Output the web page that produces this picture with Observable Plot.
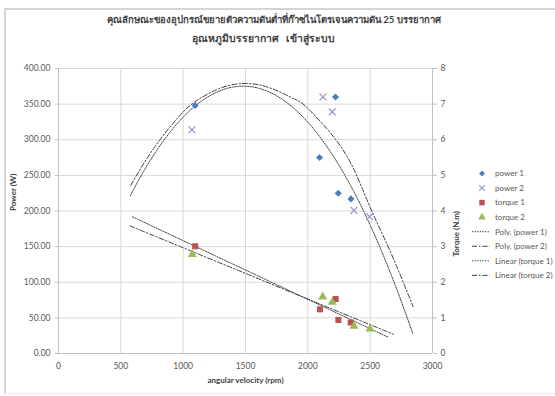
<!DOCTYPE html>
<html><head><meta charset="utf-8">
<script src="https://cdn.jsdelivr.net/npm/d3@7"></script>
<script src="https://cdn.jsdelivr.net/npm/@observablehq/plot@0.6"></script>
<style>
body{margin:0;background:#fff;}
#wrap{position:relative;width:555px;height:396px;overflow:hidden;font-family:Lato,"Open Sans",sans-serif;}
#frame{position:absolute;left:4px;top:8px;width:600px;height:383px;border-left:2px solid #d4d4d4;border-top:2px solid #d4d4d4;border-bottom:1px solid #ececec;}
.tl{position:absolute;font-weight:bold;color:#404040;line-height:19px;white-space:pre;}
#t0{left:107px;top:10px;font-size:9.5px;}
#t1{left:192px;top:29px;font-size:10.4px;word-spacing:1px;}
#chart{position:absolute;left:0;top:55px;}
</style></head>
<body><div id="wrap"><div id="frame"></div><div id="t0" class="tl"></div><div id="t1" class="tl"></div><div id="chart"></div></div>
<script>
const titleLines = ["คุณลักษณะของอุปกรณ์ขยายตัวความดันต่ำที่ก๊าซไนโตรเจนความดัน 25 บรรยากาศ", "อุณหภูมิบรรยากาศ  เข้าสู่ระบบ"];
const xLabel = "angular velocity (rpm)";
const yLabel = "Power (W)";
const y2Label = "Torque (N.m)";
const xTicks = [0, 500, 1000, 1500, 2000, 2500, 3000];
const yTicks = [0, 50, 100, 150, 200, 250, 300, 350, 400];
const y2Ticks = [0, 1, 2, 3, 4, 5, 6, 7, 8];

// power series (W)
const power1Rpm = [1096, 2094, 2222, 2244, 2346];
const power1 = [348, 275, 360, 225, 217];
const power2Rpm = [1070, 2121, 2196, 2370, 2496];
const power2 = [314, 360, 339, 201, 192];
// torque series (N.m)
const torque1Rpm = [1096, 2097, 2223, 2245, 2344];
const torque1 = [3.01, 1.24, 1.53, 0.94, 0.87];
const torque2Rpm = [1073, 2119, 2196, 2370, 2499];
const torque2 = [2.78, 1.59, 1.44, 0.77, 0.69];

// trendlines
const trendNames = ["Poly. (power 1)", "Poly. (power 2)", "Linear (torque 1)", "Linear (torque 2)"];
// fitted trendlines (power 1 quadratic, torques linear): extents
const trendFrom = [575, 0, 593, 574];
const trendTo = [2842, 0, 2644, 2685];
const trendOrder = [2, 0, 1, 1];
// Poly. (power 2) curve
const poly2Rpm = [579, 772, 1000, 1146, 1307, 1502, 1708, 1895, 2000, 2216, 2376, 2500, 2644, 2777, 2844];
const poly2W = [236, 290, 339, 359, 373, 379, 372, 357, 344, 302, 256, 205, 150, 95, 66];

const torqueScale = 400 / 8; // right axis 0..8 against left 0..400

function polyfit(xs, ys, order) {
  const n = order + 1;
  const A = Array.from({length: n}, () => new Array(n + 1).fill(0));
  xs.forEach((x0, k) => {
    const x = x0 / 1000;
    for (let i = 0; i < n; i++) {
      for (let j = 0; j < n; j++) A[i][j] += Math.pow(x, i + j);
      A[i][n] += ys[k] * Math.pow(x, i);
    }
  });
  for (let i = 0; i < n; i++) {
    let p = i;
    for (let r = i + 1; r < n; r++) if (Math.abs(A[r][i]) > Math.abs(A[p][i])) p = r;
    const tmp = A[i]; A[i] = A[p]; A[p] = tmp;
    for (let r = 0; r < n; r++) if (r !== i) {
      const f = A[r][i] / A[i][i];
      for (let c = i; c <= n; c++) A[r][c] -= f * A[i][c];
    }
  }
  const coef = A.map((row, i) => row[n] / row[i]);
  return x => coef.reduce((s, c, i) => s + c * Math.pow(x / 1000, i), 0);
}

const seriesX = [power1Rpm, power2Rpm, torque1Rpm, torque2Rpm];
const seriesY = [power1, power2, torque1.map(v => v * torqueScale), torque2.map(v => v * torqueScale)];

const trendData = [];
[0, 2, 3].forEach(i => {
  const name = trendNames[i];
  const f = polyfit(seriesX[i], seriesY[i], trendOrder[i]);
  const steps = 80;
  for (let s = 0; s <= steps; s++) {
    const x = trendFrom[i] + (trendTo[i] - trendFrom[i]) * s / steps;
    trendData.push({name, x, y: f(x)});
  }
});
poly2Rpm.forEach((x, i) => trendData.push({name: trendNames[1], x, y: poly2W[i]}));

const pts = (xs, ys, k) => xs.map((x, i) => ({x, y: ys[i], k}));
const p1 = pts(power1Rpm, power1, "power 1");
const p2 = pts(power2Rpm, power2, "power 2");
const t1 = pts(torque1Rpm, torque1.map(v => v * torqueScale), "torque 1");
const t2 = pts(torque2Rpm, torque2.map(v => v * torqueScale), "torque 2");

const blue = "#4a7ebb", purple = "#9b91cf", red = "#c0504d", green = "#9bbb59", lineC = "#404040";
const dotted = "1.3,1.3", dashed = "5,2,1.5,2";
const txt = "#595959";

const plot = Plot.plot({
  width: 555, height: 341,
  marginLeft: 58, marginRight: 123, marginTop: 13, marginBottom: 43,
  style: {fontFamily: "Lato, 'Open Sans', sans-serif", fontSize: "8.5px", color: txt, background: "transparent"},
  x: {domain: [0, 3000]},
  y: {domain: [0, 400]},
  marks: [
    Plot.gridX(xTicks, {stroke: "#d9d9d9", strokeOpacity: 1}),
    Plot.gridY(yTicks, {stroke: "#d9d9d9", strokeOpacity: 1}),
    Plot.ruleY([0], {stroke: "#bfbfbf"}),
    Plot.ruleX([0], {stroke: "#bfbfbf"}),
    Plot.ruleX([3000], {stroke: "#bfbfbf"}),
    Plot.axisX({ticks: xTicks, tickSize: 0, tickPadding: 9, tickFormat: d => String(d), label: null, fill: txt}),
    Plot.axisY({ticks: yTicks, tickSize: 3, tickPadding: 5, tickFormat: d => d.toFixed(2), label: null, stroke: "#bfbfbf", fill: txt}),
    Plot.axisY({ticks: y2Ticks.map(v => v * torqueScale), anchor: "right", tickSize: 4, tickPadding: 4, tickFormat: d => String(d / torqueScale), label: null, stroke: "#bfbfbf", fill: txt}),
    Plot.line(trendData.filter(d => d.name === trendNames[0]), {x: "x", y: "y", stroke: lineC, strokeWidth: 1, strokeDasharray: dotted}),
    Plot.line(trendData.filter(d => d.name === trendNames[1]), {x: "x", y: "y", stroke: lineC, strokeWidth: 1, strokeDasharray: dashed, curve: "natural"}),
    Plot.line(trendData.filter(d => d.name === trendNames[2]), {x: "x", y: "y", stroke: lineC, strokeWidth: 1, strokeDasharray: dotted}),
    Plot.line(trendData.filter(d => d.name === trendNames[3]), {x: "x", y: "y", stroke: lineC, strokeWidth: 1, strokeDasharray: dashed}),
    Plot.dot(p1, {x: "x", y: "y", symbol: "diamond2", fill: blue, r: 3.2, stroke: "none"}),
    Plot.dot(p2, {x: "x", y: "y", symbol: "times", stroke: purple, r: 3.2, strokeWidth: 1.2}),
    Plot.dot(t1, {x: "x", y: "y", symbol: "square", fill: red, r: 3.4, stroke: "none"}),
    Plot.dot(t2, {x: "x", y: "y", symbol: "triangle", fill: green, r: 3.4, stroke: "none"}),
    Plot.text([xLabel], {frameAnchor: "bottom", dy: 29, fontWeight: "bold", fontSize: 8, fill: "#404040"}),
    Plot.text([yLabel], {frameAnchor: "left", dx: -45, rotate: -90, fontWeight: "bold", fontSize: 8, fill: "#404040"}),
    Plot.text([y2Label], {frameAnchor: "right", dx: 24, rotate: -90, fontWeight: "bold", fontSize: 8, fill: "#404040"})
  ]
});
document.getElementById("chart").appendChild(plot);

document.getElementById("t0").textContent = titleLines[0];
document.getElementById("t1").textContent = titleLines[1];

// legend (inside the SVG, in the right margin)
const svg = d3.select(plot);
const legend = [
  {label: "power 1", kind: "diamond"},
  {label: "power 2", kind: "times"},
  {label: "torque 1", kind: "square"},
  {label: "torque 2", kind: "triangle"},
  {label: trendNames[0], kind: "dotted"},
  {label: trendNames[1], kind: "dashed"},
  {label: trendNames[2], kind: "dotted"},
  {label: trendNames[3], kind: "dashed"}
];
const lg = svg.append("g").attr("transform", "translate(0,-55)").attr("text-anchor", "start");
legend.forEach((d, i) => {
  const y = 173.5 + i * 14.55;
  const cx = 482;
  if (d.kind === "diamond") lg.append("path").attr("d", d3.symbol(d3.symbolDiamond2, 22)()).attr("transform", `translate(${cx},${y})`).attr("fill", blue);
  if (d.kind === "times") lg.append("path").attr("d", d3.symbol(d3.symbolTimes, 22)()).attr("transform", `translate(${cx},${y})`).attr("stroke", purple).attr("fill", "none").attr("stroke-width", 1.1);
  if (d.kind === "square") lg.append("path").attr("d", d3.symbol(d3.symbolSquare, 30)()).attr("transform", `translate(${cx},${y})`).attr("fill", red);
  if (d.kind === "triangle") lg.append("path").attr("d", d3.symbol(d3.symbolTriangle, 26)()).attr("transform", `translate(${cx},${y})`).attr("fill", green);
  if (d.kind === "dotted" || d.kind === "dashed") lg.append("line").attr("x1", 472).attr("x2", 490).attr("y1", y).attr("y2", y).attr("stroke", lineC).attr("stroke-dasharray", d.kind === "dotted" ? dotted : dashed);
  lg.append("text").attr("x", 495).attr("y", y).attr("dy", "0.35em").attr("font-size", 8).attr("fill", txt).attr("text-anchor", "start").text(d.label);
});
</script></body></html>
